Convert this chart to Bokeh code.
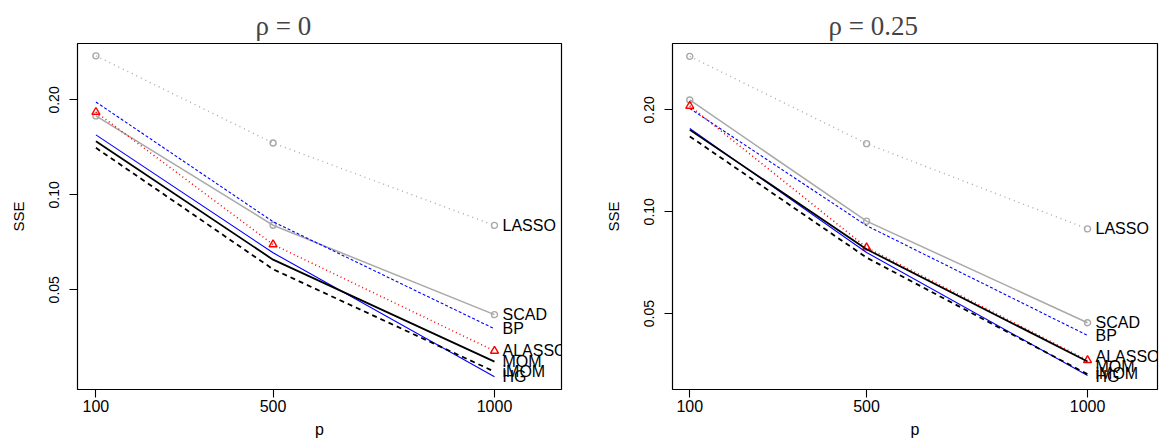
from bokeh.plotting import figure
from bokeh.layouts import row
from bokeh.models import FixedTicker, PrintfTickFormatter, Range1d
from bokeh.core.properties import value
from bokeh.embed import file_html
from bokeh.resources import INLINE

# ---- data ----
p_values = [100, 500, 1000]
x_ticks = [100, 500, 1000]
y_ticks = [0.05, 0.10, 0.20]
methods = ["LASSO", "SCAD", "BP", "ALASSO", "HG", "MOM", "iMOM"]

# rho = 0
lasso_r0 = [0.276, 0.146, 0.0800]
scad_r0 = [0.178, 0.0801, 0.0417]
bp_r0 = [0.197, 0.0822, 0.0376]
alasso_r0 = [0.183, 0.0696, 0.0320]
hg_r0 = [0.155, 0.0655, 0.0265]
mom_r0 = [0.148, 0.0623, 0.0296]
imom_r0 = [0.141, 0.0581, 0.0275]

# rho = 0.25
lasso_r25 = [0.288, 0.159, 0.0890]
scad_r25 = [0.214, 0.0938, 0.0470]
bp_r25 = [0.202, 0.0910, 0.0431]
alasso_r25 = [0.2055, 0.0784, 0.0364]
hg_r25 = [0.1762, 0.0758, 0.0328]
mom_r25 = [0.1746, 0.0775, 0.0361]
imom_r25 = [0.167, 0.0732, 0.0331]

panel_r0 = dict(zip(methods, [lasso_r0, scad_r0, bp_r0, alasso_r0, hg_r0, mom_r0, imom_r0]))
panel_r25 = dict(zip(methods, [lasso_r25, scad_r25, bp_r25, alasso_r25, hg_r25, mom_r25, imom_r25]))

# ---- styles ----
GRAY = "#A9A9A9"
styles = {
    "LASSO": dict(color=GRAY, width=1.4, dash="1 4", marker="circle"),
    "SCAD": dict(color=GRAY, width=1.5, dash="solid", marker="circle"),
    "BP": dict(color="#0000FF", width=1.1, dash="3 2", marker=None),
    "ALASSO": dict(color="#FF0000", width=1.5, dash="1 3", marker="triangle"),
    "HG": dict(color="#0000FF", width=1.1, dash="solid", marker=None),
    "MOM": dict(color="#000000", width=1.8, dash="solid", marker=None),
    "iMOM": dict(color="#000000", width=1.8, dash="5 4", marker=None),
}

SANS = "Liberation Sans"


def make_panel(data, title, x_range, y_range, width, mbl, mbr, title_offset,
               label_dy):
    p = figure(width=width, height=440, title=title,
               x_range=Range1d(*x_range), y_range=Range1d(*y_range),
               y_axis_type="log", output_backend="svg", toolbar_location=None,
               min_border_left=mbl, min_border_right=mbr,
               min_border_top=43, min_border_bottom=49)
    p.background_fill_color = "white"
    p.border_fill_color = "white"
    p.outline_line_color = "black"
    p.outline_line_width = 1.2
    p.xgrid.visible = False
    p.ygrid.visible = False

    p.title.text_font = "Liberation Serif"
    p.title.text_font_size = "27px"
    p.title.text_font_style = "normal"
    p.title.align = "left"
    p.title.offset = title_offset
    p.title.standoff = 6

    for ax in (p.xaxis[0], p.yaxis[0]):
        ax.axis_line_color = None
        ax.major_tick_in = 0
        ax.major_tick_out = 8
        ax.major_tick_line_color = "black"
        ax.major_tick_line_width = 1.1
        ax.minor_tick_line_color = None
        ax.major_label_text_font = SANS
        ax.axis_label_text_font = SANS
        ax.axis_label_text_font_style = "normal"
        ax.major_label_text_color = "black"
        ax.axis_label_text_color = "black"

    p.xaxis.ticker = FixedTicker(ticks=x_ticks)
    p.xaxis.major_label_text_font_size = "16px"
    p.xaxis.major_label_standoff = 2
    p.xaxis.axis_label = "p"
    p.xaxis.axis_label_text_font_size = "16px"
    p.xaxis.axis_label_standoff = 6

    p.yaxis.ticker = FixedTicker(ticks=y_ticks)
    p.yaxis.formatter = PrintfTickFormatter(format="%.2f")
    p.yaxis.major_label_orientation = "vertical"
    p.yaxis.major_label_text_font_size = "14px"
    p.yaxis.major_label_standoff = 10
    p.yaxis.axis_label = "SSE"
    p.yaxis.axis_label_text_font_size = "15px"
    p.yaxis.axis_label_standoff = 20

    for name in methods:
        st = styles[name]
        vals = data[name]
        p.line(p_values, vals, line_color=st["color"], line_width=st["width"],
               line_dash=st["dash"])
        if st["marker"] is not None:
            p.scatter(p_values, vals, marker=st["marker"],
                      size=6 if st["marker"] == "circle" else 8,
                      line_color=st["color"], fill_color=None, line_width=1.4)

    last_x = [p_values[-1]] * len(methods)
    last_y = [data[m][-1] for m in methods]
    p.text(last_x, last_y, text=methods, x_offset=8, y_offset=label_dy,
           text_baseline="middle", text_align="left",
           text_font=value(SANS), text_font_size="16px", text_color="black")
    return p


left = make_panel(panel_r0, "ρ = 0", (58.4, 1151.3), (0.02414, 0.302),
                  width=580, mbl=77, mbr=19, title_offset=178,
                  label_dy=[0, 0, 0, 0, 0, 0, 0])
right = make_panel(panel_r25, "ρ = 0.25", (60.9, 1158.3), (0.02983, 0.3143),
                   width=579, mbl=92, mbr=2, title_offset=156,
                   label_dy=[0, 0, 0, -4, 1, 5, -1])

layout = row(left, right)
open("out.html", "w").write(file_html(layout, INLINE))
